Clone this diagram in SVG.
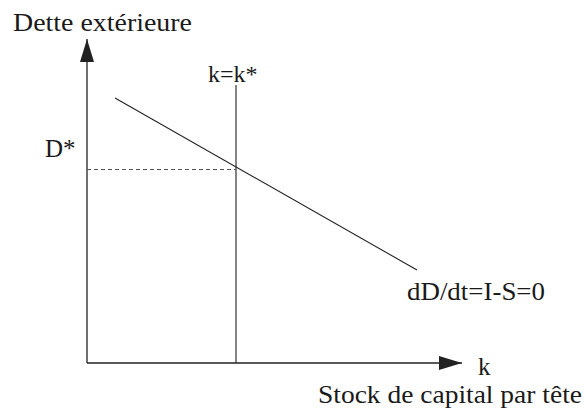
<svg xmlns="http://www.w3.org/2000/svg" width="586" height="414" viewBox="0 0 586 414">
<style>
text{font-family:'Liberation Serif','Times New Roman',Times,serif;font-size:25px;fill:#1a1a1a}
.ax{stroke:#222;stroke-width:1.3;fill:none}
.ln{stroke:#222;stroke-width:1.1;fill:none}
.dash{stroke:#555;stroke-width:1.1;stroke-dasharray:4 3;fill:none}
</style>
<defs>
<marker id="arr" viewBox="0 0 23 14" refX="23" refY="7" markerWidth="23" markerHeight="14" markerUnits="userSpaceOnUse" orient="auto">
<path d="M0,0 L23,7 L0,14 Z" fill="#222"/>
</marker>
</defs>
<g id="connectors">
<line class="ax" x1="87" y1="363" x2="87" y2="39" marker-end="url(#arr)"/>
<line class="ax" x1="87" y1="363" x2="462" y2="363" marker-end="url(#arr)"/>
<line class="ln" x1="236" y1="85" x2="236" y2="363"/>
<line class="dash" x1="87" y1="169.5" x2="236" y2="169.5"/>
<line class="ln" x1="115" y1="98" x2="417" y2="270"/>
</g>
<g id="label-yaxis"><text x="13" y="31" textLength="179" lengthAdjust="spacingAndGlyphs">Dette extérieure</text></g>
<g id="label-kstar"><text x="208" y="82" style="font-size:24px">k=k*</text></g>
<g id="label-dstar"><text x="45" y="157">D*</text></g>
<g id="label-curve"><text x="407" y="300" textLength="138" lengthAdjust="spacingAndGlyphs">dD/dt=I-S=0</text></g>
<g id="label-k"><text x="478" y="375">k</text></g>
<g id="label-xaxis"><text x="318" y="403" textLength="264" lengthAdjust="spacingAndGlyphs">Stock de capital par tête</text></g>
</svg>
